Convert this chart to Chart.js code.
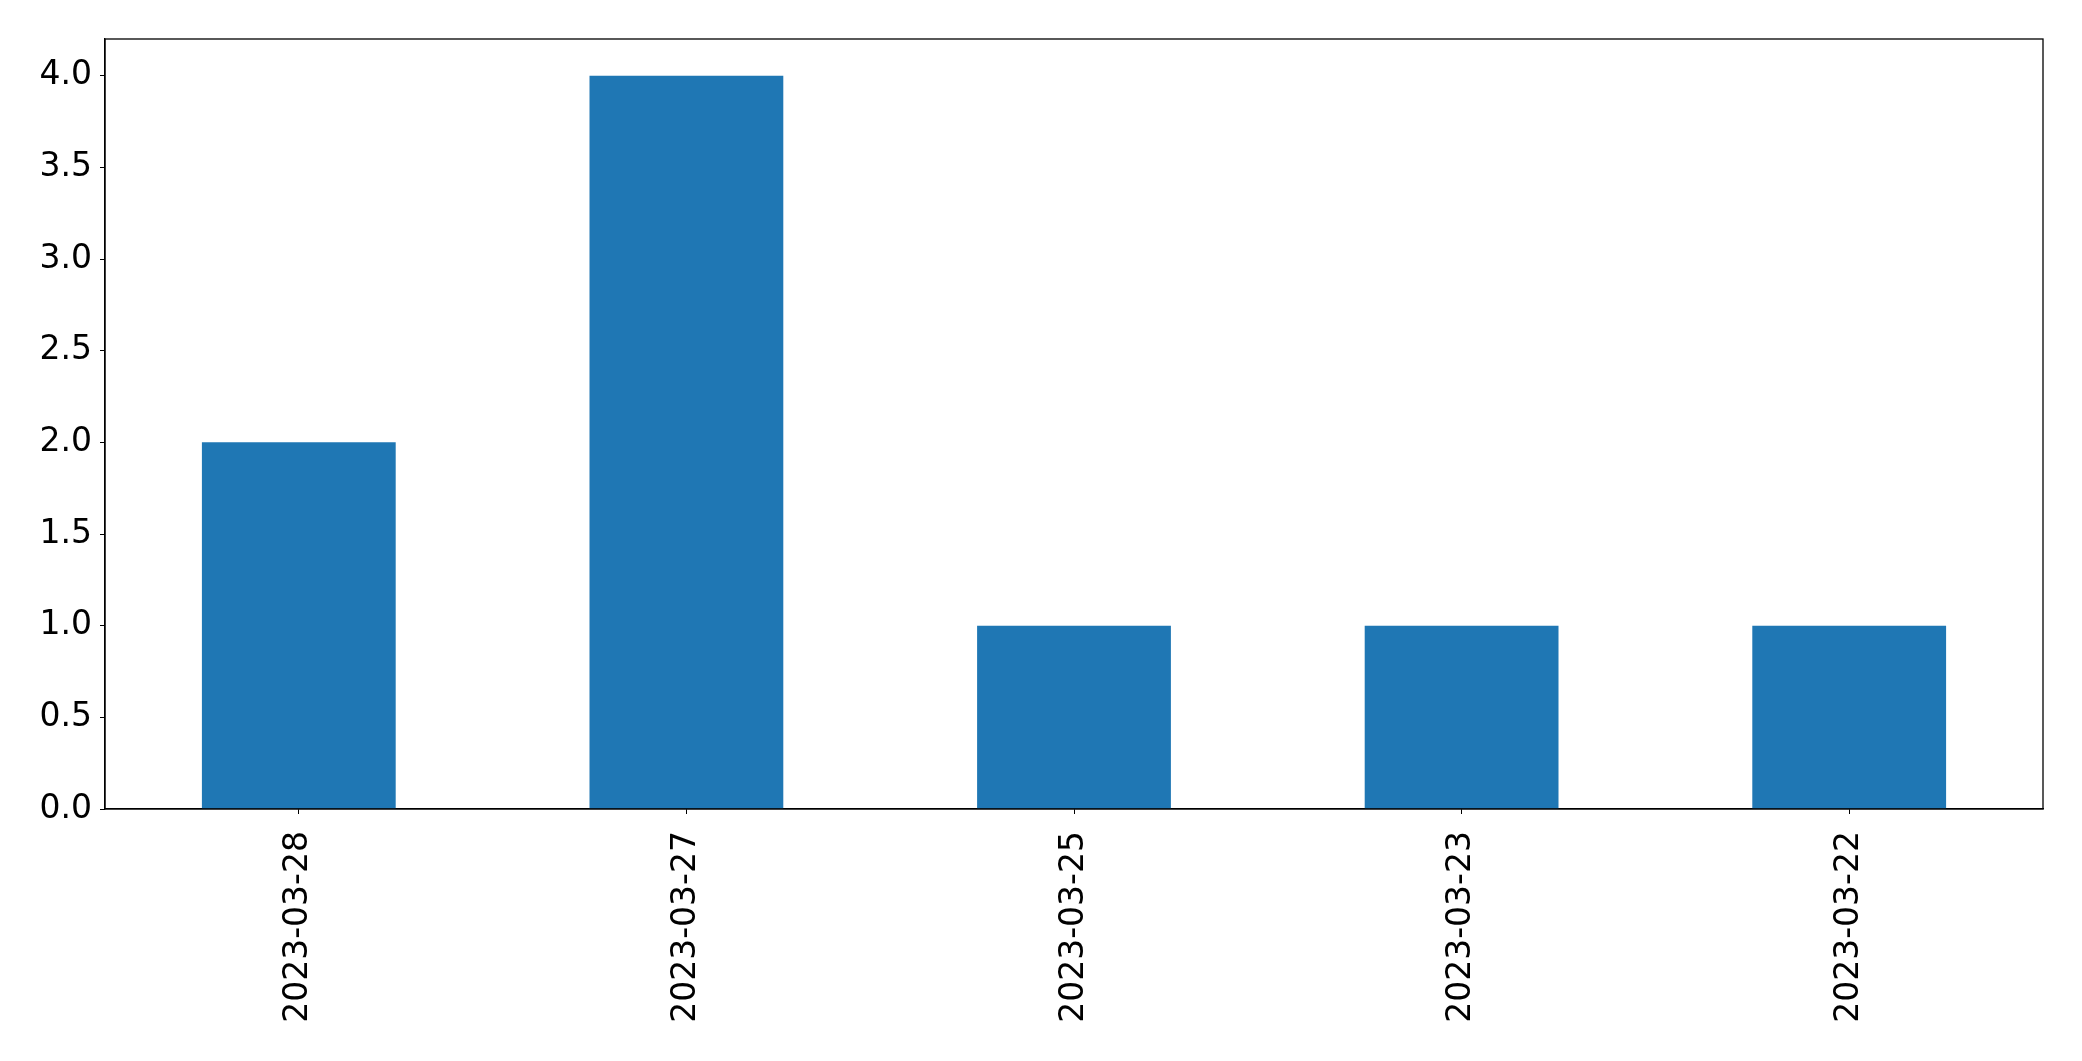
<!DOCTYPE html>
<html>
<head>
<meta charset="utf-8">
<script src="https://cdn.jsdelivr.net/npm/chart.js@4"></script>
<style>
  html, body { margin: 0; padding: 0; background: #fff; }
  #wrap { width: 2082px; height: 1061px; position: relative; }
</style>
</head>
<body>
<div id="wrap"><canvas id="c" width="2082" height="1061"></canvas></div>
<script>
const categories = ["2023-03-28", "2023-03-27", "2023-03-25", "2023-03-23", "2023-03-22"];
const values = [2, 4, 1, 1, 1];
const yMin = 0;
const yMax = 4.2;
const yTicks = [0.0, 0.5, 1.0, 1.5, 2.0, 2.5, 3.0, 3.5, 4.0];

const frame = {
  id: 'frame',
  afterDraw(chart) {
    const a = chart.chartArea, ctx = chart.ctx;
    ctx.save();
    ctx.strokeStyle = '#000';
    ctx.lineWidth = 1.3;
    ctx.strokeRect(a.left, a.top, a.right - a.left, a.bottom - a.top);
    ctx.restore();
  }
};

new Chart(document.getElementById('c'), {
  type: 'bar',
  data: {
    labels: categories,
    datasets: [{
      data: values,
      backgroundColor: '#1f77b4',
      borderWidth: 0,
      categoryPercentage: 1.0,
      barPercentage: 0.5
    }]
  },
  options: {
    responsive: false,
    animation: false,
    devicePixelRatio: 1,
    layout: { padding: { top: 39, right: 39, left: 0, bottom: 0 } },
    plugins: { legend: { display: false }, tooltip: { enabled: false } },
    scales: {
      x: {
        grid: { display: true, drawOnChartArea: false, drawTicks: true, tickLength: 5, color: '#000', offset: false },
        border: { display: true, color: '#000', width: 1.3 },
        ticks: {
          color: '#000',
          font: { family: 'DejaVu Sans', size: 33 },
          minRotation: 90, maxRotation: 90,
          padding: 17,
          autoSkip: false
        },
        afterFit(s) { s.height = 252; }
      },
      y: {
        min: yMin, max: yMax,
        grid: { display: true, drawOnChartArea: false, drawTicks: true, tickLength: 5, color: '#000' },
        border: { display: true, color: '#000', width: 1.3 },
        ticks: {
          color: '#000',
          font: { family: 'DejaVu Sans', size: 33 },
          padding: 8,
          callback: v => Number(v).toFixed(1)
        },
        afterBuildTicks(s) { s.ticks = yTicks.map(v => ({ value: v })); },
        afterFit(s) { s.width = 105; }
      }
    }
  },
  plugins: [frame]
});
</script>
</body>
</html>
